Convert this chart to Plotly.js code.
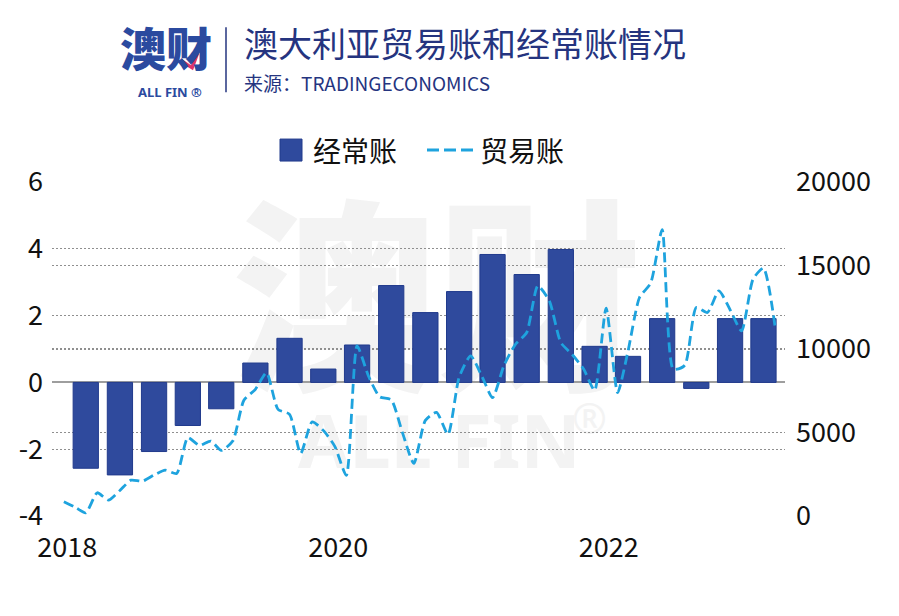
<!DOCTYPE html>
<html>
<head>
<meta charset="utf-8">
<script src="https://cdn.plot.ly/plotly-3.0.1.min.js"></script>
<style>
  html, body { margin: 0; padding: 0; background: #ffffff; }
  #chart { width: 899px; height: 616px; }
</style>
</head>
<body>
<div id="chart"></div>
<script>
// ---- data ----
const quarterDates = [
  '2018-03-01','2018-06-01','2018-09-01','2018-12-01',
  '2019-03-01','2019-06-01','2019-09-01','2019-12-01',
  '2020-03-01','2020-06-01','2020-09-01','2020-12-01',
  '2021-03-01','2021-06-01','2021-09-01','2021-12-01',
  '2022-03-01','2022-06-01','2022-09-01','2022-12-01',
  '2023-03-01'
];
const currentAccount = [
  -2.57, -2.77, -2.07, -1.29,
  -0.79, 0.58, 1.32, 0.40,
  1.12, 2.90, 2.09, 2.72,
  3.83, 3.23, 3.98, 1.08,
  0.78, 1.91, -0.18, 1.91,
  1.91
];
const monthDates = [
  '2018-01-01','2018-02-01','2018-03-01','2018-04-01','2018-05-01','2018-06-01','2018-07-01','2018-08-01','2018-09-01','2018-10-01','2018-11-01','2018-12-01',
  '2019-01-01','2019-02-01','2019-03-01','2019-04-01','2019-05-01','2019-06-01','2019-07-01','2019-08-01','2019-09-01','2019-10-01','2019-11-01','2019-12-01',
  '2020-01-01','2020-02-01','2020-03-01','2020-04-01','2020-05-01','2020-06-01','2020-07-01','2020-08-01','2020-09-01','2020-10-01','2020-11-01','2020-12-01',
  '2021-01-01','2021-02-01','2021-03-01','2021-04-01','2021-05-01','2021-06-01','2021-07-01','2021-08-01','2021-09-01','2021-10-01','2021-11-01','2021-12-01',
  '2022-01-01','2022-02-01','2022-03-01','2022-04-01','2022-05-01','2022-06-01','2022-07-01','2022-08-01','2022-09-01','2022-10-01','2022-11-01','2022-12-01',
  '2023-01-01','2023-02-01','2023-03-01','2023-04-01'
];
const tradeBalance = [
  852, 522, 192, 1391, 948, 1529, 2147, 2087, 2453, 2747, 2549, 4690,
  4228, 4486, 3928, 4486, 6927, 7586, 8576, 6387, 6087, 3748, 5637, 5127,
  4168, 2429, 10183, 8366, 7136, 6957, 5007, 3148, 5727, 6207, 4888, 8306,
  9583, 8336, 7088, 9025, 10255, 10986, 13781, 12882, 10387, 9685, 8816, 7526,
  12444, 7388, 9865, 13085, 13943, 17151, 8786, 9025, 12486, 12186, 13481, 12354,
  11082, 14183, 14842, 11382
];
const leftTicks = [-4, -2, 0, 2, 4, 6];
const rightTicks = [0, 5000, 10000, 15000, 20000];
const seriesNames = ['经常账', '贸易账'];
const titleText = '澳大利亚贸易账和经常账情况';
const sourceText = '来源：TRADINGECONOMICS';

// ---- styling ----
const BAR_COLOR = '#2f4a9d';
const BAR_EDGE = '#203a8c';
const LINE_COLOR = '#1ea3de';
const NAVY = '#25347f';
const LOGO = '#2b4a9f';
const FONT = '"Noto Sans CJK SC", "Noto Sans", sans-serif';

const W = 899, H = 616;
const M = {l: 52, r: 114, t: 182, b: 99.5};
const PW = W - M.l - M.r, PH = H - M.t - M.b;
const px = x => (x - M.l) / PW;
const py = y => (H - M.b - y) / PH;

const bars = {
  type: 'bar', name: seriesNames[0],
  x: quarterDates, y: currentAccount,
  width: 5.88e9,
  marker: {color: BAR_COLOR, line: {color: BAR_EDGE, width: 1}},
  yaxis: 'y', hoverinfo: 'x+y'
};
const line = {
  type: 'scatter', mode: 'lines', name: seriesNames[1],
  x: monthDates, y: tradeBalance,
  line: {color: LINE_COLOR, width: 2.8, dash: '10px,5px', shape: 'spline', smoothing: 0.6},
  yaxis: 'y2'
};

const wmSvg = "<svg xmlns='http://www.w3.org/2000/svg' width='470' height='290'>" +
  "<text x='0' y='178' font-family='Noto Sans CJK SC' font-weight='900' font-size='205' fill='#f3f3f3'>澳财</text>" +
  "<text x='66' y='272' font-family='Noto Sans' font-weight='700' font-size='74' fill='#f3f3f3'>ALL FIN</text>" +
  "<text x='340' y='238' font-family='Noto Sans' font-size='42' fill='#f3f3f3'>®</text>" +
  "</svg>";
const wmUri = 'data:image/svg+xml;charset=utf-8,' + encodeURIComponent(wmSvg);

const annotations = [
  {text: '澳财', x: px(166), y: py(46), font: {family: '"Noto Sans CJK SC"', size: 46, color: LOGO, weight: 900}},
  {text: 'ALL FIN ®', x: px(170), y: py(92), font: {family: '"Noto Sans", sans-serif', size: 13, color: LOGO, weight: 700}},
  {text: titleText, x: px(242), y: py(42.7), xanchor: 'left', font: {family: FONT, size: 34, color: NAVY}},
  {text: sourceText, x: px(242), y: py(82), xanchor: 'left', font: {family: FONT, size: 19, color: NAVY}},
  {text: seriesNames[0], x: px(311), y: py(150), xanchor: 'left', font: {family: FONT, size: 28, color: '#111111'}},
  {text: seriesNames[1], x: px(478), y: py(150), xanchor: 'left', font: {family: FONT, size: 28, color: '#111111'}}
].map(a => Object.assign({xref: 'paper', yref: 'paper', showarrow: false, xanchor: 'center', yanchor: 'middle'}, a));

const shapes = [
  {type: 'line', xref: 'paper', yref: 'paper', x0: px(226), x1: px(226), y0: py(27), y1: py(92), line: {color: NAVY, width: 1.5}},
  {type: 'rect', xref: 'paper', yref: 'paper', x0: px(280), x1: px(302), y0: py(161), y1: py(139), fillcolor: BAR_COLOR, line: {color: BAR_EDGE, width: 1}},
  {type: 'line', xref: 'paper', yref: 'paper', x0: px(427), x1: px(474), y0: py(150), y1: py(150), line: {color: LINE_COLOR, width: 3, dash: '12px,5px'}},
  {type: 'path', xref: 'paper', yref: 'paper', layer: 'above',
   path: `M ${px(181)} ${py(58)} L ${px(191)} ${py(65)} L ${px(197)} ${py(49)} L ${px(199)} ${py(54)} L ${px(193)} ${py(70)} L ${px(180)} ${py(62)} Z`,
   fillcolor: '#e0336b', line: {width: 0}}
];

const gridStyle = {gridcolor: '#8f8f8f', gridwidth: 1.2, griddash: '1.5px,2.5px'};

const layout = {
  width: W, height: H,
  margin: M,
  paper_bgcolor: '#ffffff', plot_bgcolor: 'rgba(0,0,0,0)',
  showlegend: false,
  font: {family: FONT, color: '#111111'},
  xaxis: {
    type: 'date',
    range: ['2017-11-30', '2023-04-28'],
    tickvals: ['2018-01-10', '2020-01-10', '2022-01-08'],
    ticktext: ['2018', '2020', '2022'],
    showgrid: false, zeroline: false, showline: false, ticks: '',
    ticklabelstandoff: 13,
    tickfont: {family: FONT, size: 27, color: '#111111'}
  },
  yaxis: Object.assign({
    range: [-4, 6], tickvals: leftTicks, ticktext: leftTicks.map(String),
    showgrid: true, zeroline: true, zerolinecolor: '#9e9e9e', zerolinewidth: 2,
    showline: false, ticks: '', ticklabelstandoff: 8,
    tickfont: {family: FONT, size: 27, color: '#111111'}
  }, gridStyle),
  yaxis2: Object.assign({
    overlaying: 'y', side: 'right',
    range: [0, 20000], tickvals: rightTicks, ticktext: rightTicks.map(String),
    showgrid: true, zeroline: false, showline: false, ticks: '', ticklabelstandoff: 10,
    tickfont: {family: FONT, size: 27, color: '#111111'}
  }, gridStyle),
  annotations: annotations,
  shapes: shapes,
  images: [{
    source: wmUri, xref: 'paper', yref: 'paper',
    x: px(232), y: py(196), sizex: 470 / PW, sizey: 290 / PH,
    xanchor: 'left', yanchor: 'top', sizing: 'stretch', layer: 'below'
  }]
};

Plotly.newPlot('chart', [bars, line], layout, {displayModeBar: false, staticPlot: true});
</script>
</body>
</html>
